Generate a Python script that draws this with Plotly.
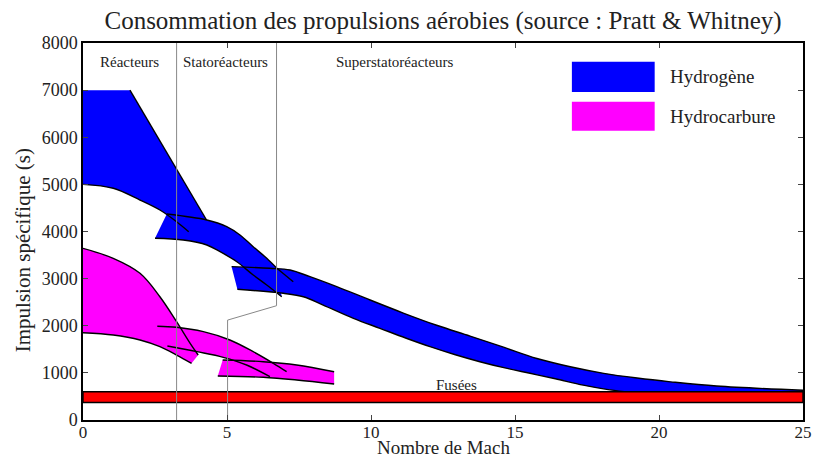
import plotly.graph_objects as go

# ---------------- data (Mach, Isp in s) ----------------
# Hydrogen turbojet
h2_turbo_top_x = [0, 1.63, 4.29]
h2_turbo_top_y = [7000, 7000, 4244]
h2_turbo_bot_x = [0, 1.05, 1.98, 2.67, 3.25, 3.67]
h2_turbo_bot_y = [5000, 4917, 4668, 4456, 4208, 3996]

# Hydrogen ramjet
h2_ram_top_x = [2.91, 4.30, 4.99, 5.45, 5.91, 6.38, 6.73, 7.30]
h2_ram_top_y = [4371, 4244, 4102, 3926, 3677, 3431, 3219, 2935]
h2_ram_bot_x = [2.5, 3.48, 4.30, 4.76, 5.34, 5.91, 6.38, 6.90]
h2_ram_bot_y = [3856, 3820, 3714, 3571, 3359, 3077, 2865, 2616]

# Hydrogen scramjet
h2_scram_top_x = [5.16, 6.49, 7.19, 7.88, 8.81, 9.97, 11.12, 12.28, 13.44, 14.6, 15.76, 16.92, 18.08, 19.24, 20.4, 22.0, 25.0]
h2_scram_top_y = [3254, 3219, 3183, 3041, 2829, 2546, 2270, 2010, 1780, 1545, 1305, 1130, 990, 890, 810, 720, 630]
h2_scram_bot_x = [5.36, 6.95, 7.65, 8.34, 9.39, 10.31, 11.2, 12.05, 12.9, 13.78, 14.65, 15.52, 16.4, 17.37, 18.18, 18.8, 25.0]
h2_scram_bot_y = [2773, 2689, 2616, 2440, 2158, 1946, 1740, 1556, 1390, 1237, 1105, 991, 875, 740, 651, 600, 600]

# Hydrocarbon turbojet
hc_turbo_top_x = [0, 1.05, 1.98, 2.67, 3.25, 3.72, 4.0]
hc_turbo_top_y = [3643, 3431, 3113, 2616, 2086, 1627, 1379]
hc_turbo_bot_x = [0, 1.05, 1.98, 2.67, 3.25, 3.77]
hc_turbo_bot_y = [1853, 1804, 1698, 1556, 1379, 1203]

# Hydrocarbon ramjet
hc_ram_top_x = [2.58, 3.25, 4.18, 5.1, 5.91, 6.61, 7.07]
hc_ram_top_y = [1988, 1967, 1874, 1698, 1450, 1203, 1025]
hc_ram_bot_x = [2.93, 3.95, 4.87, 5.68, 6.49]
hc_ram_bot_y = [1570, 1450, 1330, 1167, 919]

# Hydrocarbon scramjet
hc_scram_top_x = [4.85, 6.26, 7.42, 8.72]
hc_scram_top_y = [1273, 1237, 1167, 1025]
hc_scram_bot_x = [4.68, 6.26, 7.42, 8.72]
hc_scram_bot_y = [934, 906, 849, 764]

# Rockets
rocket_x = [0, 25]
rocket_low = 370
rocket_high = 600

# Regime boundaries
bound1_x = [3.25, 3.25]
bound1_y = [0, 8000]
bound2_x = [6.72, 6.72, 5.02, 5.02]
bound2_y = [8000, 2425, 2120, 0]

regime_labels = ["Réacteurs", "Statoréacteurs", "Superstatoréacteurs"]
regime_label_x = [1.63, 4.95, 10.83]
regime_label_y = 7600

x_ticks = [0, 5, 10, 15, 20, 25]
y_ticks = [0, 1000, 2000, 3000, 4000, 5000, 6000, 7000, 8000]

BLUE = "#0000ff"
MAGENTA = "#ff00ff"
RED = "#ff0000"
FONT = "Liberation Serif"
TXT = "#222222"
SM = 1.0

fig = go.Figure()


def shp(spline):
    return dict(shape="spline", smoothing=SM) if spline else dict(shape="linear")


def band(xt, yt, xb, yb, color, top_spline=True, bot_spline=True):
    fig.add_trace(go.Scatter(x=xb, y=yb, mode="lines", fill="none",
                             line=dict(width=0, color=color, **shp(bot_spline)),
                             hoverinfo="skip", showlegend=False))
    fig.add_trace(go.Scatter(x=xt, y=yt, mode="lines", fill="tonexty", fillcolor=color,
                             line=dict(width=0, color=color, **shp(top_spline)),
                             hoverinfo="skip", showlegend=False))


def line(x, y, color="black", width=1.4, spline=True):
    fig.add_trace(go.Scatter(x=x, y=y, mode="lines",
                             line=dict(color=color, width=width, **shp(spline)),
                             hoverinfo="skip", showlegend=False))


# fills
band(h2_turbo_top_x, h2_turbo_top_y, h2_turbo_bot_x, h2_turbo_bot_y, BLUE, top_spline=False)
band(h2_ram_top_x[:7], h2_ram_top_y[:7], h2_ram_bot_x, h2_ram_bot_y, BLUE)
band(h2_scram_top_x, h2_scram_top_y, h2_scram_bot_x, h2_scram_bot_y, BLUE)
band(hc_turbo_top_x, hc_turbo_top_y, hc_turbo_bot_x, hc_turbo_bot_y, MAGENTA)
band(hc_ram_top_x, hc_ram_top_y, hc_ram_bot_x, hc_ram_bot_y, MAGENTA)
band(hc_scram_top_x, hc_scram_top_y, hc_scram_bot_x, hc_scram_bot_y, MAGENTA)

# edges
line(h2_turbo_top_x[1:], h2_turbo_top_y[1:], spline=False)
line(h2_turbo_bot_x, h2_turbo_bot_y)
line(h2_ram_top_x[:7], h2_ram_top_y[:7])
line(h2_ram_top_x[6:], h2_ram_top_y[6:])
line(h2_ram_bot_x, h2_ram_bot_y)
line(h2_scram_top_x, h2_scram_top_y)
line(h2_scram_bot_x[:-1], h2_scram_bot_y[:-1])
line(hc_turbo_top_x, hc_turbo_top_y)
line(hc_turbo_bot_x, hc_turbo_bot_y)
line(hc_ram_top_x, hc_ram_top_y)
line(hc_ram_bot_x, hc_ram_bot_y)
line(hc_scram_top_x, hc_scram_top_y)
line(hc_scram_bot_x, hc_scram_bot_y)

# rockets
fig.add_trace(go.Scatter(x=rocket_x + rocket_x[::-1] + [rocket_x[0]],
                         y=[rocket_high, rocket_high, rocket_low, rocket_low, rocket_high],
                         mode="lines", fill="toself", fillcolor=RED,
                         line=dict(color="black", width=1.4), hoverinfo="skip", showlegend=False))

# regime boundaries
line(bound1_x, bound1_y, color="#888888", width=1, spline=False)
line(bound2_x, bound2_y, color="#888888", width=1, spline=False)

for t, xx in zip(regime_labels, regime_label_x):
    fig.add_annotation(x=xx, y=regime_label_y, text=t, showarrow=False,
                       font=dict(family=FONT, size=15, color=TXT))
fig.add_annotation(x=12.97, y=rocket_high, yanchor="bottom", text="Fusées", showarrow=False,
                   font=dict(family=FONT, size=15, color=TXT), yshift=-3)

# legend (custom)
for (y0, y1, c, label) in [(0.870, 0.950, BLUE, "Hydrogène"), (0.767, 0.844, MAGENTA, "Hydrocarbure")]:
    fig.add_shape(type="rect", xref="paper", yref="paper", x0=0.679, x1=0.794, y0=y0, y1=y1,
                  fillcolor=c, line=dict(width=0))
    fig.add_annotation(xref="paper", yref="paper", x=0.812, y=(y0 + y1) / 2, xanchor="left",
                       yanchor="middle", text=label, showarrow=False,
                       font=dict(family=FONT, size=19, color=TXT))

# axis titles
fig.add_annotation(xref="paper", yref="paper", x=0.5, y=-0.107, xanchor="center", yanchor="bottom",
                   text="Nombre de Mach", showarrow=False, font=dict(family=FONT, size=19, color=TXT))
fig.add_annotation(xref="paper", yref="paper", x=-0.083, y=0.451, xanchor="center", yanchor="middle",
                   textangle=-90, text="Impulsion spécifique (s)", showarrow=False,
                   font=dict(family=FONT, size=21, color=TXT))

fig.update_layout(
    width=813, height=461,
    margin=dict(l=83, r=10, t=43, b=41),
    plot_bgcolor="white", paper_bgcolor="white",
    title=dict(text="Consommation des propulsions aérobies (source : Pratt & Whitney)",
               x=0.545, xanchor="center", y=0.955, yanchor="middle",
               font=dict(family=FONT, size=25, color=TXT)),
    xaxis=dict(range=[0, 25], tickvals=x_ticks, ticks="inside", ticklen=5, mirror="allticks",
               showline=True, linecolor="black", linewidth=1.5, showgrid=False, zeroline=False,
               automargin=False, ticklabelstandoff=-4,
               tickfont=dict(family=FONT, size=17, color=TXT)),
    yaxis=dict(range=[0, 8000], tickvals=y_ticks, ticks="inside", ticklen=5, mirror="allticks",
               showline=True, linecolor="black", linewidth=1.5, showgrid=False, zeroline=False,
               automargin=False,
               tickfont=dict(family=FONT, size=18, color=TXT)),
)

fig.write_html("out.html")
